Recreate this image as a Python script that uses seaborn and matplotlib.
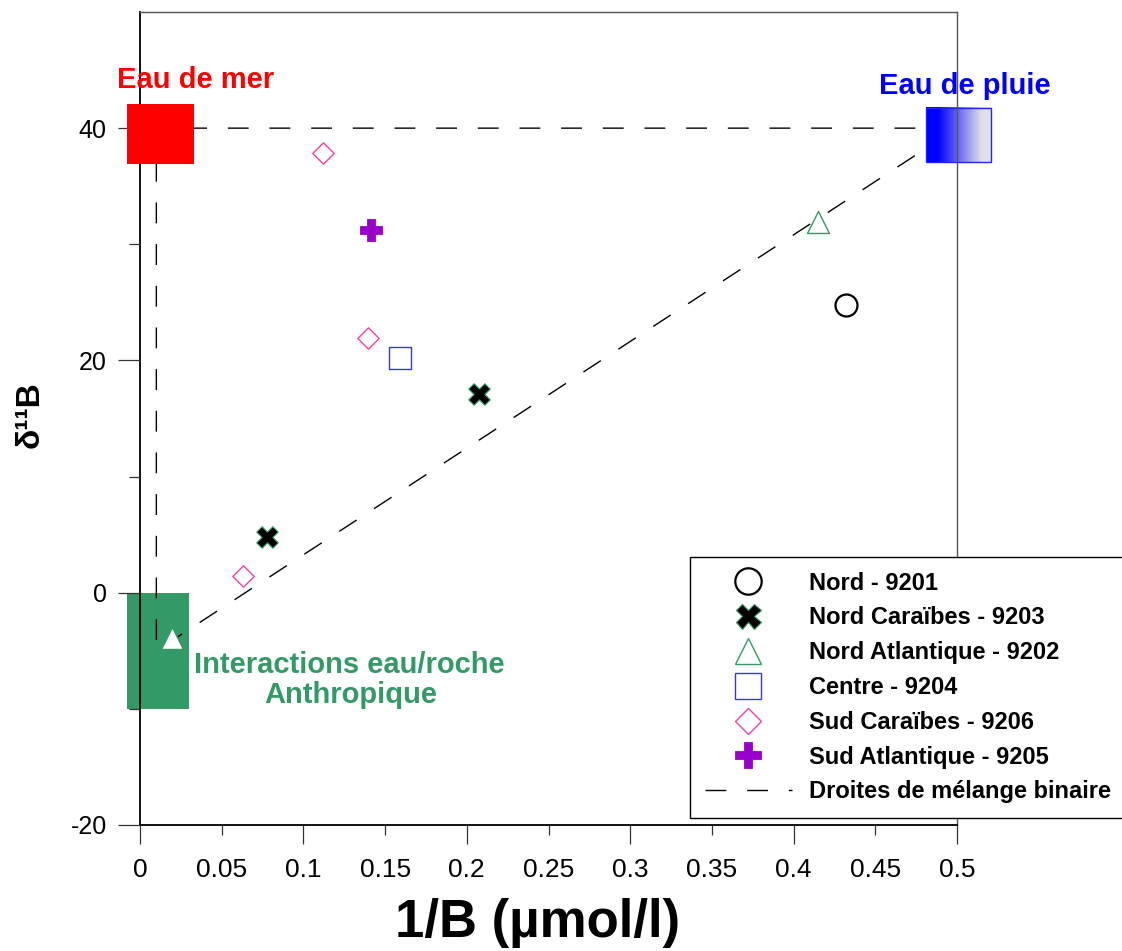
import numpy as np
import matplotlib
matplotlib.use("Agg")
import matplotlib.pyplot as plt
import seaborn as sns
from matplotlib.lines import Line2D
from matplotlib.patches import Rectangle

# ---------------- data ----------------
series_names = ["Nord - 9201", "Nord Caraïbes - 9203", "Nord Atlantique - 9202",
                "Centre - 9204", "Sud Caraïbes - 9206", "Sud Atlantique - 9205"]
nord_x = [0.432]
nord_y = [24.8]
nord_car_x = [0.078, 0.2075]
nord_car_y = [4.8, 17.1]
nord_atl_x = [0.0195, 0.415]
nord_atl_y = [-3.9, 31.9]
centre_x = [0.159]
centre_y = [20.2]
sud_car_x = [0.063, 0.1395, 0.112]
sud_car_y = [1.45, 21.9, 37.9]
sud_atl_x = [0.1414]
sud_atl_y = [31.2]

# binary mixing lines between end-members (rain -> sea -> water/rock -> rain)
mix_x = [0.5, 0.01, 0.01, 0.5]
mix_y = [40, 40, -5, 40]
mix_label = "Droites de mélange binaire"

endmember_labels = ["Eau de mer", "Eau de pluie", "Interactions eau/roche", "Anthropique"]

x_ticks = [0, 0.05, 0.1, 0.15, 0.2, 0.25, 0.3, 0.35, 0.4, 0.45, 0.5]
x_tick_labels = ["0", "0.05", "0.1", "0.15", "0.2", "0.25", "0.3", "0.35", "0.4", "0.45", "0.5"]
y_ticks = [-20, 0, 20, 40]
y_tick_labels = ["-20", "0", "20", "40"]
y_minor = [-10, 10, 30]

# ---------------- style ----------------
sns.set_style("ticks")
plt.rcParams["font.family"] = ["Liberation Sans", "DejaVu Sans"]
plt.rcParams["text.color"] = "black"
plt.rcParams["axes.labelcolor"] = "black"
plt.rcParams["xtick.color"] = "black"
plt.rcParams["ytick.color"] = "black"
plt.rcParams["xtick.labelcolor"] = "black"
plt.rcParams["ytick.labelcolor"] = "black"

W, H = 1122, 951
fig = plt.figure(figsize=(W / 100, H / 100), dpi=100)
ax = fig.add_axes([140 / W, 1 - 825 / H, 817 / W, 813 / H])
ax.set_axisbelow(False)

SEA = "#339966"
BLUE = "#3333ff"
PINK = "#ff3d9e"
PURPLE = "#9900cc"

# ---------------- mixing lines ----------------
sns.lineplot(x=mix_x, y=mix_y, sort=False, estimator=None, color="black",
             linewidth=1.0, linestyle=(0, (15, 15)), ax=ax, zorder=2, legend=False)

# ---------------- end-member boxes ----------------
ax.add_patch(Rectangle((-0.008, -10), 0.038, 10, facecolor=SEA, edgecolor="none",
                       zorder=1, clip_on=False))
ax.add_patch(Rectangle((-0.008, 36.9), 0.041, 5.2, facecolor="#ff0000", edgecolor="none",
                       zorder=3, clip_on=False))
t = np.linspace(0, 1, 256)
f = np.clip((t - 0.18) / 0.67, 0, 1)
blue = np.array([0, 0, 1.0])
gray = np.array([0.88, 0.88, 0.91])
grad = (blue[None, :] * (1 - f[:, None]) + gray[None, :] * f[:, None])[None, :, :]
bx0, bx1, by0, by1 = 0.481, 0.5208, 37.07, 41.72
ax.imshow(grad, extent=[bx0, bx1, by0, by1], aspect="auto", zorder=2.2,
          clip_on=False, interpolation="bilinear")
ax.add_patch(Rectangle((bx0, by0), bx1 - bx0, by1 - by0, fill=False, edgecolor="#2222ff",
                       linewidth=1.0, zorder=2.3, clip_on=False))

# ---------------- scatter series ----------------
sns.scatterplot(x=nord_x, y=nord_y, marker="o", s=250, color="white", edgecolor="black",
                linewidth=1.6, ax=ax, zorder=5, legend=False)
sns.scatterplot(x=nord_car_x, y=nord_car_y, marker="X", s=240, color="black", edgecolor=SEA,
                linewidth=0.8, ax=ax, zorder=5, legend=False)
sns.scatterplot(x=nord_atl_x, y=nord_atl_y, marker="^", s=250, color="white", edgecolor=SEA,
                linewidth=1.0, ax=ax, zorder=5, legend=False)
sns.scatterplot(x=centre_x, y=centre_y, marker="s", s=250, color="white", edgecolor=BLUE,
                linewidth=1.0, ax=ax, zorder=5, legend=False)
sns.scatterplot(x=sud_car_x, y=sud_car_y, marker="D", s=118, color="white", edgecolor=PINK,
                linewidth=1.0, ax=ax, zorder=5, legend=False)
sns.scatterplot(x=sud_atl_x, y=sud_atl_y, marker="P", s=270, color=PURPLE, edgecolor=PURPLE,
                linewidth=0.6, ax=ax, zorder=5, legend=False)

# ---------------- annotations ----------------
ax.text(0.0337, 43.45, endmember_labels[0], color="#ff0000", fontsize=21, fontweight="bold",
        ha="center", va="baseline", clip_on=False)
ax.text(0.5046, 42.9, endmember_labels[1], color="#0000ff", fontsize=21, fontweight="bold",
        ha="center", va="baseline", clip_on=False)
ax.text(0.128, -6.9, endmember_labels[2], color=SEA, fontsize=21, fontweight="bold",
        ha="center", va="baseline", zorder=6)
ax.text(0.129, -9.5, endmember_labels[3], color=SEA, fontsize=21, fontweight="bold",
        ha="center", va="baseline", zorder=6)

# ---------------- axes ----------------
ax.set_xlim(0, 0.5)
ax.set_ylim(-20, 50)
ax.set_xticks(x_ticks)
ax.set_xticklabels(x_tick_labels)
ax.set_yticks(y_ticks)
ax.set_yticklabels(y_tick_labels)
ax.set_yticks(y_minor, minor=True)
ax.tick_params(axis="x", which="major", direction="out", length=14, width=0.9,
               color="#333333", labelcolor="black", labelsize=19, pad=10)
ax.tick_params(axis="y", which="major", direction="out", length=16, width=0.9,
               color="#333333", labelcolor="black", labelsize=18, pad=8)
ax.tick_params(axis="y", which="minor", direction="out", length=8, width=0.9, color="#333333")
for i, tk in enumerate(ax.xaxis.get_major_ticks()):
    if i % 2 == 1:
        tk.tick1line.set_markersize(7)

for side in ["left", "bottom"]:
    ax.spines[side].set_color("black")
    ax.spines[side].set_linewidth(1.3)
for side in ["top", "right"]:
    ax.spines[side].set_visible(True)
    ax.spines[side].set_color("#555555")
    ax.spines[side].set_linewidth(1.0)

ax.set_xlabel("1/B (µmol/l)", fontsize=38, fontweight="bold", color="black")
ax.xaxis.set_label_coords(0.487, -0.09)
ax.xaxis.label.set_va("top")
ax.set_ylabel("δ¹¹B", fontsize=24, fontweight="bold", color="black")
ax.yaxis.set_label_coords(-0.115, 0.505)

# ---------------- legend ----------------
handles = [
    Line2D([], [], ls="none", marker="o", ms=19, mfc="white", mec="black", mew=1.6),
    Line2D([], [], ls="none", marker="X", ms=18, mfc="black", mec=SEA, mew=0.8),
    Line2D([], [], ls="none", marker="^", ms=19, mfc="white", mec=SEA, mew=1.0),
    Line2D([], [], ls="none", marker="s", ms=19, mfc="white", mec=BLUE, mew=1.0),
    Line2D([], [], ls="none", marker="D", ms=13.5, mfc="white", mec=PINK, mew=1.0),
    Line2D([], [], ls="none", marker="P", ms=19, mfc=PURPLE, mec=PURPLE, mew=0.6),
    Line2D([], [], color="black", lw=1.0, ls=(0, (15, 15))),
]
labels = series_names + [mix_label]
leg = ax.legend(handles, labels, loc="upper left",
                bbox_to_anchor=(690 / W, 1 - 557 / H, 460 / W, 0),
                bbox_transform=fig.transFigure, mode="expand", borderaxespad=0,
                prop={"size": 17, "weight": "bold", "family": ["Liberation Sans", "DejaVu Sans"]},
                handlelength=3.7, handletextpad=0.7, borderpad=0.62, labelspacing=0.5,
                frameon=True, fancybox=False, shadow=False, framealpha=1.0,
                edgecolor="black", labelcolor="black")
leg.get_frame().set_linewidth(1.0)
leg.set_zorder(10)

fig.savefig("out.png", dpi=100)
